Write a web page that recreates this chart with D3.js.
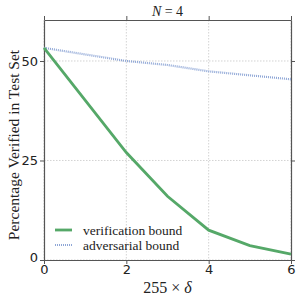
<!DOCTYPE html>
<html>
<head>
<meta charset="utf-8">
<script src="https://cdn.jsdelivr.net/npm/d3@7"></script>
<style>
  html, body { margin: 0; padding: 0; background: #fff; }
</style>
</head>
<body>
<div id="chart"></div>
<script>
// values
const deltas = [0, 2, 3, 4, 5, 6]
const verificationBound = [53.3, 27.0, 16.0, 7.5, 3.6, 1.5]
const adversarialBound = [53.3, 50.0, 49.0, 47.4, 46.4, 45.4]
const xTicks = [0, 2, 4, 6]
const yTicks = [0, 25, 50]

const width = 305
const height = 305
const margin = { top: 20, right: 14, bottom: 45, left: 44 }
const chartWidth = width - margin.left - margin.right
const chartHeight = height - margin.top - margin.bottom
const serif = "Liberation Serif, DejaVu Serif, serif"

const svg = d3.select("#chart")
  .append("svg")
  .attr("width", width)
  .attr("height", height)

const g = svg.append("g")
  .attr("transform", `translate(${margin.left},${margin.top})`)

const xScale = d3.scaleLinear().domain([0, 6]).range([0, chartWidth])
const yScale = d3.scaleLinear().domain([0, 60.3]).range([chartHeight, 0])

// dotted grid
g.append("g")
  .selectAll("line")
  .data(xTicks)
  .join("line")
  .attr("x1", d => xScale(d)).attr("x2", d => xScale(d))
  .attr("y1", 0).attr("y2", chartHeight)
  .attr("stroke", "#c8c8c8").attr("stroke-width", 0.8)
  .attr("stroke-dasharray", "1.5,1.5")

g.append("g")
  .selectAll("line")
  .data(yTicks)
  .join("line")
  .attr("x1", 0).attr("x2", chartWidth)
  .attr("y1", d => yScale(d)).attr("y2", d => yScale(d))
  .attr("stroke", "#c8c8c8").attr("stroke-width", 0.8)
  .attr("stroke-dasharray", "1.5,1.5")

// axes on all four sides, outward ticks
const styleAxis = sel => {
  sel.select(".domain").attr("stroke", "#555").attr("stroke-width", 1.2)
  sel.selectAll(".tick line").attr("stroke", "#555")
  sel.selectAll("text")
    .attr("font-family", "DejaVu Sans, sans-serif")
    .attr("font-size", "13px")
    .attr("fill", "#222")
}

g.append("g")
  .attr("transform", `translate(0,${chartHeight})`)
  .call(d3.axisBottom(xScale).tickValues(xTicks).tickFormat(d3.format("d")).tickSize(4).tickSizeOuter(0).tickPadding(1))
  .call(styleAxis)

g.append("g")
  .call(d3.axisLeft(yScale).tickValues(yTicks).tickFormat(d3.format("d")).tickSize(4).tickSizeOuter(0).tickPadding(2))
  .call(styleAxis)
  .selectAll(".tick text")
  .attr("dy", d => d === 0 ? "0.1em" : "0.32em")

g.append("g")
  .call(d3.axisTop(xScale).tickValues(xTicks).tickSize(4).tickSizeOuter(0).tickFormat(""))
  .call(styleAxis)

g.append("g")
  .attr("transform", `translate(${chartWidth},0)`)
  .call(d3.axisRight(yScale).tickValues(yTicks).tickSize(4).tickSizeOuter(0).tickFormat(""))
  .call(styleAxis)

// lines
const line = d3.line()
  .x((d, i) => xScale(deltas[i]))
  .y(d => yScale(d))

g.append("path")
  .datum(adversarialBound)
  .attr("fill", "none")
  .attr("stroke", "#8ea6d6")
  .attr("stroke-width", 2.2)
  .attr("stroke-dasharray", "1,1")
  .attr("d", line)

g.append("path")
  .datum(verificationBound)
  .attr("fill", "none")
  .attr("stroke", "#55a868")
  .attr("stroke-width", 2.8)
  .attr("d", line)

// legend
const legend = g.append("g").attr("transform", "translate(11,210)")
const legendItems = [
  { label: "verification bound", color: "#55a868", dash: null, w: 2.8 },
  { label: "adversarial bound", color: "#8ea6d6", dash: "1,1", w: 2.2 }
]
legendItems.forEach((item, i) => {
  const row = legend.append("g").attr("transform", `translate(0,${i * 15})`)
  row.append("line")
    .attr("x1", 0).attr("x2", 17)
    .attr("stroke", item.color)
    .attr("stroke-width", item.w)
    .attr("stroke-dasharray", item.dash)
  row.append("text")
    .attr("x", 28).attr("y", 4.5)
    .attr("font-family", serif)
    .attr("font-size", "13.5px")
    .attr("fill", "#222")
    .text(item.label)
})

// title
const title = svg.append("text")
  .attr("x", margin.left + chartWidth / 2)
  .attr("y", 16)
  .attr("text-anchor", "middle")
  .attr("font-family", serif)
  .attr("font-size", "14px")
  .attr("fill", "#222")
title.append("tspan").attr("font-style", "italic").text("N")
title.append("tspan").text(" = 4")

// axis labels
svg.append("text")
  .attr("x", margin.left + chartWidth / 2)
  .attr("y", 293)
  .attr("text-anchor", "middle")
  .attr("font-family", serif)
  .attr("font-size", "16px")
  .attr("fill", "#222")
  .html('255 × <tspan font-style="italic">δ</tspan>')

svg.append("text")
  .attr("transform", `translate(19,${margin.top + chartHeight / 2 + 5}) rotate(-90)`)
  .attr("text-anchor", "middle")
  .attr("font-family", serif)
  .attr("font-size", "15.5px")
  .attr("fill", "#222")
  .text("Percentage Verified in Test Set")
</script>
</body>
</html>
